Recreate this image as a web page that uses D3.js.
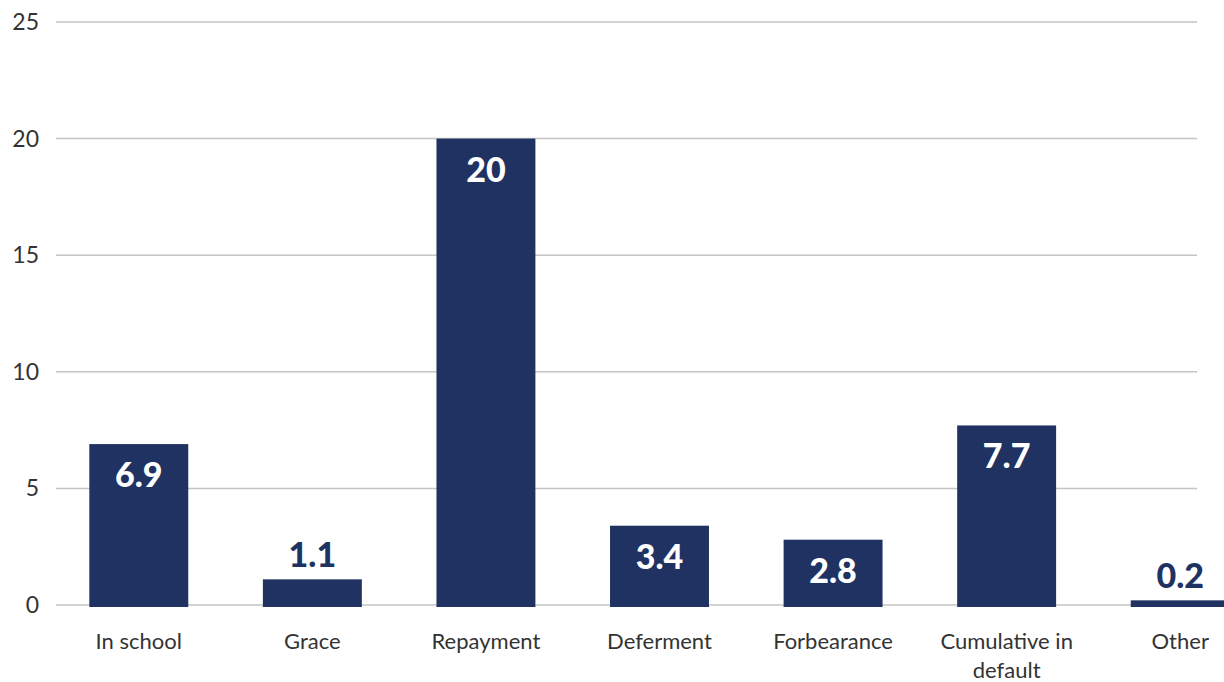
<!DOCTYPE html>
<html>
<head>
<meta charset="utf-8">
<script src="https://cdn.jsdelivr.net/npm/d3@7"></script>
<style>
  body { margin: 0; background: #fff; overflow: hidden; }
  svg { display: block; }
</style>
</head>
<body>
<div id="chart"></div>
<script>
// data
var categories = ["In school", "Grace", "Repayment", "Deferment", "Forbearance", "Cumulative in default", "Other"];
var values = [6.9, 1.1, 20, 3.4, 2.8, 7.7, 0.2];
var valueLabels = ["6.9", "1.1", "20", "3.4", "2.8", "7.7", "0.2"];
var yTicks = [0, 5, 10, 15, 20, 25];

var barColor = "#203262";
var width = 1224, height = 682;

var svg = d3.select("#chart").append("svg")
    .attr("width", width).attr("height", height);

var x = d3.scaleBand()
    .domain(categories)
    .range([52, 1267])
    .paddingInner(0.43)
    .paddingOuter(0.215);

var y = d3.scaleLinear()
    .domain([0, 25])
    .range([605, 22]);

// gridlines
svg.append("g").selectAll("line").data(yTicks).enter().append("line")
    .attr("x1", 56).attr("x2", 1197)
    .attr("y1", function(d) { return y(d); })
    .attr("y2", function(d) { return y(d); })
    .attr("stroke", "#c4c4c4")
    .attr("stroke-width", 1.5);

// y tick labels
svg.append("g").selectAll("text").data(yTicks).enter().append("text")
    .attr("x", 39)
    .attr("y", function(d) { return y(d) + 8; })
    .attr("text-anchor", "end")
    .attr("font-family", "Lato, sans-serif")
    .attr("font-size", "23px")
    .attr("fill", "#333")
    .text(function(d) { return d; });

// bars
svg.append("g").selectAll("rect").data(values).enter().append("rect")
    .attr("x", function(d, i) { return x(categories[i]); })
    .attr("width", x.bandwidth())
    .attr("y", function(d) { return y(d); })
    .attr("height", function(d) { return y(0) - y(d) + 2; })
    .attr("fill", barColor);

// value labels: inside for tall bars, above for short ones
svg.append("g").selectAll("text").data(values).enter().append("text")
    .attr("x", function(d, i) { return x(categories[i]) + x.bandwidth() / 2; })
    .attr("y", function(d) { return d > 2 ? y(d) + 43 : y(d) - 12; })
    .attr("text-anchor", "middle")
    .attr("font-family", "Lato, sans-serif")
    .attr("font-weight", "900")
    .attr("font-size", "34px")
    .attr("fill", function(d) { return d > 2 ? "#fff" : barColor; })
    .text(function(d, i) { return valueLabels[i]; });

// category labels, wrapped
var catG = svg.append("g").selectAll("text").data(categories).enter().append("text")
    .attr("x", function(d) { return x(d) + x.bandwidth() / 2; })
    .attr("y", 649)
    .attr("text-anchor", "middle")
    .attr("font-family", "Lato, sans-serif")
    .attr("font-size", "22px")
    .attr("fill", "#333");

catG.each(function(d) {
    var t = d3.select(this);
    var words = d.split(" ");
    var lines = [];
    var line = [];
    var cx = +t.attr("x");
    var tspan = t.append("tspan").attr("x", cx);
    words.forEach(function(w) {
        line.push(w);
        tspan.text(line.join(" "));
        if (tspan.node().getComputedTextLength() > 155 && line.length > 1) {
            line.pop();
            tspan.text(line.join(" "));
            line = [w];
            tspan = t.append("tspan").attr("x", cx).attr("dy", 29).text(w);
        }
    });
});
</script>
</body>
</html>
